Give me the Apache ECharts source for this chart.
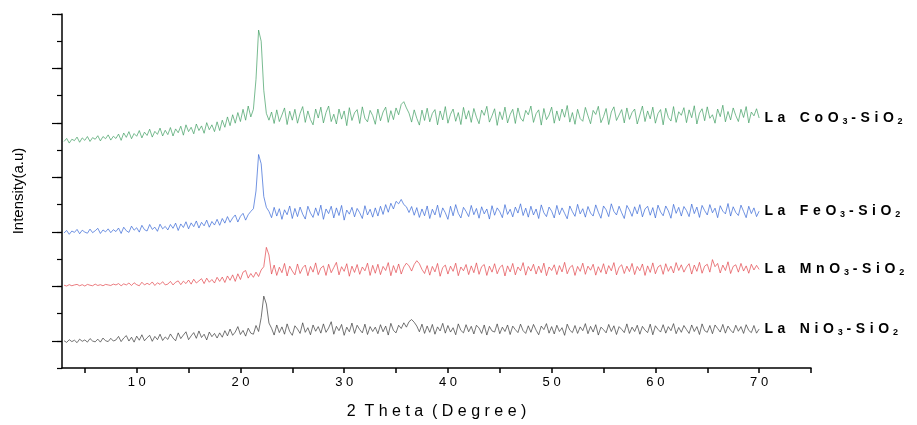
<!DOCTYPE html>
<html>
<head>
<meta charset="utf-8">
<script src="https://cdn.jsdelivr.net/npm/echarts@6/dist/echarts.min.js"></script>
<style>html,body{margin:0;padding:0;background:#fff}#c{width:917px;height:425px}</style>
</head>
<body>
<div id="c"></div>
<script>
// 2-theta scan grid (degrees)
const thetaStart = 3;
const thetaStep = 0.25;

const xTickValues = [5,10,15,20,25,30,35,40,45,50,55,60,65,70,75];
const xLabelValues = [10,20,30,40,50,60,70];

const seriesNames = ['LaNiO3-SiO2','LaMnO3-SiO2','LaFeO3-SiO2','LaCoO3-SiO2'];

const niData = [
100,94,104,97,102,93,106,98,103,95,108,99,96,106,95,110,100,97,109,99,
103,116,97,110,119,99,113,95,117,102,122,100,111,120,98,116,104,124,101,114,
105,125,110,100,129,108,121,133,104,118,130,109,136,112,124,103,132,115,127,110,
129,113,137,118,143,120,132,152,123,138,117,146,128,124,156,134,185,264,235,165,
146,121,158,130,151,124,162,134,120,155,143,127,166,131,148,122,158,135,152,128,
162,131,147,170,124,153,137,160,120,150,133,165,127,157,141,129,161,123,152,134,
150,126,159,133,154,121,164,138,129,157,145,166,150,170,178,168,154,133,161,127,
154,131,160,124,151,136,164,128,156,132,148,122,162,138,129,159,133,153,125,157,
147,127,158,121,153,136,132,162,126,150,134,158,123,154,141,130,161,137,127,155,
131,160,139,122,154,141,163,128,152,125,157,134,148,120,161,139,130,156,127,151,
137,163,126,153,132,159,121,150,141,129,160,134,155,123,152,142,130,162,127,150,
134,157,124,153,139,130,161,122,155,142,132,159,128,152,137,163,126,149,131,156,
141,127,158,134,152,123,162,137,131,156,126,158,145,132,160,128,154,139,129,157,
135,152,127,159,138,130,156,128,143
];

const mnData = [
304,301,306,302,305,307,302,306,301,307,304,302,308,303,306,302,307,305,303,308,
305,310,302,309,305,312,303,313,306,302,315,305,311,306,316,303,313,307,317,305,
308,318,305,315,320,306,319,310,323,308,326,312,320,328,310,330,315,325,312,333,
318,334,314,338,322,342,318,346,325,352,358,330,347,333,352,336,360,372,443,415,
345,378,340,370,350,384,338,374,356,342,382,347,368,378,339,373,352,386,343,367,
375,340,381,350,369,388,342,372,355,383,337,374,351,380,344,371,357,385,340,377,
348,381,343,373,358,387,339,376,350,382,345,371,385,375,356,380,394,383,362,347,
376,341,373,353,384,337,369,378,345,374,355,385,339,371,357,380,343,375,350,386,
344,372,380,340,374,352,383,346,369,378,338,375,353,384,342,371,357,387,341,373,
356,381,345,374,350,385,339,371,358,379,343,376,353,388,346,369,377,340,373,355,
385,344,374,359,381,341,372,351,383,345,376,357,387,342,370,379,347,374,354,384,
343,373,357,382,340,375,351,386,346,371,378,344,383,355,374,349,387,358,379,352,
371,383,345,378,355,388,348,374,381,352,398,372,384,349,378,358,390,347,373,379,
352,384,356,375,348,381,360,377,362
];

const feData = [
496,505,491,503,498,509,493,506,499,495,510,497,504,513,494,507,500,511,497,508,
501,514,494,517,504,498,521,506,515,499,524,508,503,527,509,517,502,528,511,520,
507,527,513,532,505,529,516,537,511,533,519,540,514,535,522,543,517,538,525,546,
524,549,532,556,535,551,562,536,557,568,543,563,575,585,650,784,750,630,590,575,
552,590,558,585,546,581,563,595,549,586,556,591,565,547,594,569,553,588,560,598,
546,584,567,594,551,588,560,597,543,580,565,590,555,586,570,549,596,562,583,554,
588,558,594,564,600,572,605,584,612,603,619,600,592,571,593,561,589,553,584,559,
595,549,583,562,598,553,588,570,546,594,559,600,568,551,590,575,556,597,563,586,
550,592,566,584,547,596,561,588,574,552,600,564,583,555,591,569,603,560,587,554,
594,562,584,549,599,570,556,591,576,551,597,563,588,568,548,595,574,557,601,566,
585,554,593,569,558,599,572,550,595,581,556,603,575,562,594,570,549,597,580,557,
592,566,600,555,584,594,561,589,551,598,573,559,595,577,550,601,568,590,558,593,
578,556,602,567,591,553,597,578,562,600,570,587,552,596,576,566,604,558,592,571,
560,598,575,552,594,567,588,556,576
];

const coData = [
832,843,826,840,835,848,829,845,836,850,832,846,840,853,834,850,842,856,837,851,
843,859,836,863,847,868,842,861,851,872,845,866,854,877,848,869,858,881,852,873,
857,883,852,878,864,888,855,893,868,884,860,896,872,889,862,901,875,893,868,904,
872,910,884,922,890,930,899,938,905,950,910,962,922,950,1060,1241,1200,1020,935,910,
940,898,948,905,929,955,894,943,910,950,899,935,960,902,944,912,893,951,918,958,
900,938,962,905,932,896,951,914,944,890,956,909,937,949,898,959,917,904,946,927,
895,951,908,940,958,902,945,912,955,930,968,978,955,936,903,948,917,892,947,909,
954,904,935,949,893,944,911,960,899,932,951,906,938,894,957,914,945,902,953,921,
897,947,928,961,903,926,952,891,941,912,958,900,931,950,898,955,918,906,946,930,
962,902,934,948,892,953,912,929,958,899,944,908,951,921,964,903,938,895,950,916,
906,957,926,897,946,931,961,901,923,953,894,940,959,909,929,949,900,955,913,938,
951,896,929,962,905,944,915,958,899,934,949,893,954,920,907,960,902,941,928,956,
901,948,919,963,896,936,952,908,959,917,930,899,951,923,965,904,942,911,955,927,
905,950,920,960,900,940,926,952,918
];

const seriesColors = ['#3a3a3a','#e2454a','#3566d6','#3f9e62'];
const seriesLabelTexts = ['La NiO3-SiO2','La MnO3-SiO2','La FeO3-SiO2','La CoO3-SiO2'];

// letter-spaced rich label, digits as subscripts
function spacedLabel(text){
  return text.split('').map(ch=>{
    if (/[0-9]/.test(ch)) return '{s|' + ch + '}';
    if (ch === ' ') return '{g| }';
    return '{n|' + ch + '}';
  }).join('');
}

function toPairs(arr){ return arr.map((v,i)=>[thetaStart + i*thetaStep, v]); }
const allData = [niData, mnData, feData, coData];

const chart = echarts.init(document.getElementById('c'), null, {renderer:'canvas'});
const axisLineStyle = {color:'#000', width:1.5};
const labelFont = 'Liberation Sans, Arial';
chart.setOption({
  animation:false,
  backgroundColor:'#fff',
  grid:{left:62, right:106, top:14, bottom:56, containLabel:false},
  xAxis:{
    type:'value', min:2.8, max:75,
    name:'2  T h e t a  ( D e g r e e )',
    nameLocation:'middle', nameGap:36,
    nameTextStyle:{fontFamily:labelFont, fontSize:16, color:'#000'},
    axisLine:{show:true, lineStyle:axisLineStyle},
    axisTick:{show:true, inside:false, length:5, customValues:xTickValues, lineStyle:{color:'#000', width:1.5}},
    axisLabel:{show:true, customValues:xLabelValues, margin:8, fontFamily:labelFont, fontSize:13, color:'#000',
      formatter:(v)=>String(v).split('').join(' ')},
    splitLine:{show:false}
  },
  yAxis:[{
    type:'value', min:0, max:1300, interval:100,
    name:'Intensity(a.u)', nameLocation:'middle', nameGap:36,
    nameTextStyle:{fontFamily:labelFont, fontSize:15, color:'#000'},
    axisLine:{show:true, lineStyle:axisLineStyle},
    axisTick:{show:true, inside:false, length:5, lineStyle:{color:'#000', width:1.2}},
    axisLabel:{show:false},
    splitLine:{show:false}
  },{
    type:'value', min:0, max:1300, position:'left',
    axisLine:{show:false},
    axisTick:{show:true, inside:false, length:10, customValues:[100,300,500,700,900,1100,1300], lineStyle:{color:'#000', width:1.2}},
    axisLabel:{show:false},
    splitLine:{show:false}
  }],
  series: allData.map((d,k)=>({
    type:'line', name:seriesNames[k], yAxisIndex:0,
    data:toPairs(d), showSymbol:false, symbol:'none',
    lineStyle:{color:seriesColors[k], width:0.7},
    emphasis:{disabled:true},
    endLabel:{show:true, distance:3, formatter:spacedLabel(seriesLabelTexts[k]),
      rich:{
        n:{fontFamily:labelFont, fontWeight:'bold', fontSize:14, color:'#000', lineHeight:16, padding:[0,2.3,0,2.3]},
        g:{fontFamily:labelFont, fontWeight:'bold', fontSize:14, color:'#000', lineHeight:16, padding:[0,3,0,3]},
        s:{fontFamily:labelFont, fontWeight:'bold', fontSize:9, color:'#000', lineHeight:16, padding:[7,1.5,0,1.5]}
      }}
  }))
});
</script>
</body>
</html>
